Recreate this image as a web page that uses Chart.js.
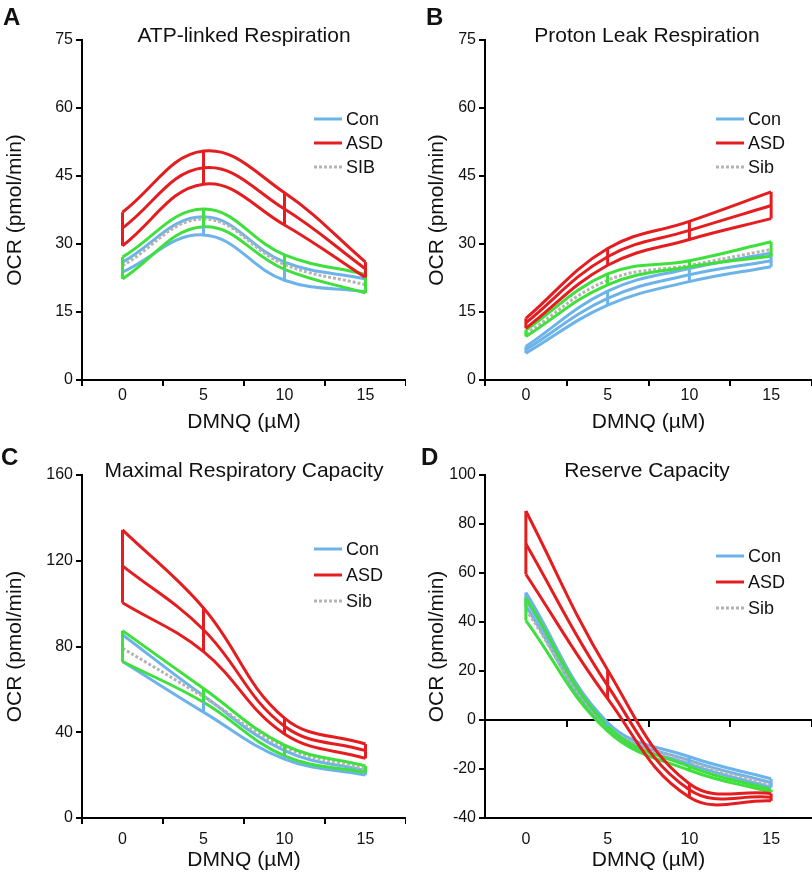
<!DOCTYPE html>
<html>
<head>
<meta charset="utf-8">
<script src="https://cdn.jsdelivr.net/npm/chart.js@4/dist/chart.umd.min.js"></script>
<style>
  body { margin: 0; background: #fff; font-family: "Liberation Sans", Arial, Helvetica, sans-serif; color: #111; }
  #page { position: relative; width: 812px; height: 875px; overflow: hidden; }
  .panel { position: absolute; width: 406px; height: 438px; }
  .letter { position: absolute; font-weight: bold; font-size: 24px; line-height: 24px; }
  .title { position: absolute; width: 324px; text-align: center; font-size: 21px; line-height: 21px; white-space: nowrap; }
</style>
</head>
<body>
<div id="page">
  <div class="panel" style="left:0;top:0"><canvas id="chartA" width="406" height="437"></canvas></div>
  <div class="panel" style="left:406px;top:0"><canvas id="chartB" width="406" height="437"></canvas></div>
  <div class="panel" style="left:0;top:437px"><canvas id="chartC" width="406" height="438"></canvas></div>
  <div class="panel" style="left:406px;top:437px"><canvas id="chartD" width="406" height="438"></canvas></div>

  <div class="letter" style="left:3px;top:5px">A</div>
  <div class="letter" style="left:426px;top:5px">B</div>
  <div class="letter" style="left:1px;top:445px">C</div>
  <div class="letter" style="left:421px;top:445px">D</div>

  <div class="title" style="left:82px;top:24px">ATP-linked Respiration</div>
  <div class="title" style="left:485px;top:24px">Proton Leak Respiration</div>
  <div class="title" style="left:82px;top:459px">Maximal Respiratory Capacity</div>
  <div class="title" style="left:485px;top:459px">Reserve Capacity</div>
</div>

<script>
const doses = ['0', '5', '10', '15'];

// A: ATP-linked respiration
const atpConHi = [26, 36, 26, 22.3];
const atpConLo = [23.8, 32, 22, 19.5];
const atpSibMean = [25.2, 35.5, 25.5, 21];
const atpSibHi = [27.1, 37.7, 27.6, 23.3];
const atpSibLo = [22.3, 33.8, 24.4, 19.2];
const atpAsdHi = [37, 50.5, 41.3, 26];
const atpAsdMean = [33.5, 46.8, 37.7, 24.5];
const atpAsdLo = [29.6, 43.2, 34.2, 22.6];

// B: proton leak respiration
const leakConHi = [7.4, 19.6, 24.6, 28];
const leakConMean = [6.7, 18, 23.2, 26.3];
const leakConLo = [5.9, 16.5, 21.7, 25];
const leakSibMean = [10.2, 22, 25.3, 28.8];
const leakSibHi = [11, 23.4, 26.3, 30.5];
const leakSibLo = [9.6, 21, 25, 27.3];
const leakAsdHi = [13.6, 29, 35, 41.5];
const leakAsdMean = [12.6, 27.2, 33, 38.5];
const leakAsdLo = [11.4, 25.3, 31, 35.6];

// C: maximal respiratory capacity
const maxConHi = [85.5, 57, 31.4, 22];
const maxConLo = [73, 49.4, 27.5, 20];
const maxSibMean = [79.2, 56.5, 33, 22.7];
const maxSibHi = [87.4, 60.4, 34, 24.3];
const maxSibLo = [73, 54, 29, 21.2];
const maxAsdHi = [134.4, 98, 46.6, 34.5];
const maxAsdMean = [117.6, 87.8, 42.8, 31.4];
const maxAsdLo = [100.4, 77.6, 39.2, 27.8];

// D: reserve capacity
const resConHi = [52, -1, -15, -24];
const resConMean = [49, -2.5, -16.5, -25.6];
const resConLo = [46.5, -4, -18, -27.5];
const resSibMean = [45, -2.5, -17, -26.5];
const resSibHi = [50, -2.5, -19, -28.5];
const resSibLo = [40.6, -4.5, -20.5, -29.5];
const resAsdHi = [85.3, 20.4, -26, -30];
const resAsdMean = [71.9, 14, -28.5, -31.5];
const resAsdLo = [59.5, 8.7, -31.5, -33];

const BLUE = '#6cb3ea';
const RED = '#e41e20';
const GREEN = '#3fe03b';
const GRAY = '#b4b4b4';

Chart.defaults.font.family = '"Liberation Sans", Arial, Helvetica, sans-serif';
Chart.defaults.color = '#111';

function line(data, color, dash) {
	return {
		data: data,
		borderColor: color,
		borderWidth: 3,
		borderDash: dash || [],
		pointRadius: 0,
		tension: 0.4,
		fill: false,
		xAxisID: 'x',
		yAxisID: 'y',
	};
}

// vertical SE bars drawn at each dose through the chart scales
const errorBars = {
	id: 'errorBars',
	afterDatasetsDraw(chart, args, opts) {
		const ctx = chart.ctx;
		const xs = chart.scales.x;
		const ys = chart.scales.y;
		ctx.save();
		ctx.lineWidth = 3;
		opts.groups.forEach((g) => {
			ctx.strokeStyle = g.color;
			g.hi.forEach((v, i) => {
				const px = xs.getPixelForValue(i);
				ctx.beginPath();
				ctx.moveTo(px, ys.getPixelForValue(v));
				ctx.lineTo(px, ys.getPixelForValue(g.lo[i]));
				ctx.stroke();
			});
		});
		ctx.restore();
	},
};

const insideLegend = {
	id: 'insideLegend',
	afterDraw(chart, args, opts) {
		const ctx = chart.ctx;
		const area = chart.chartArea;
		ctx.save();
		ctx.font = '18px "Liberation Sans", Arial, sans-serif';
		ctx.textBaseline = 'middle';
		ctx.fillStyle = '#111';
		opts.items.forEach((item, i) => {
			const y = area.top + opts.rows[i];
			ctx.beginPath();
			ctx.strokeStyle = item.color;
			ctx.lineWidth = 3;
			ctx.setLineDash(item.dash || []);
			ctx.moveTo(area.left + opts.x0, y);
			ctx.lineTo(area.left + opts.x1, y);
			ctx.stroke();
			ctx.setLineDash([]);
			ctx.fillText(item.label, area.left + opts.x1 + 4, y + 1);
		});
		ctx.restore();
	},
};

function makePanel(p) {
	const scales = {
		x: {
			type: 'category',
			offset: true,
			grid: { offset: true, drawOnChartArea: false, tickLength: 6, color: '#000', lineWidth: 2,
				tickColor: p.zeroAxis ? 'rgba(0,0,0,0)' : '#000' },
			border: { color: '#000', width: 2 },
			ticks: { font: { size: 16 }, color: '#111', padding: p.xPad },
			title: { display: true, text: 'DMNQ (µM)', font: { size: 21 }, color: '#111', padding: { top: 2, bottom: p.titlePad } },
			afterFit: (s) => { s.height = 57; },
		},
		y: {
			min: p.yMin,
			max: p.yMax,
			grid: { drawOnChartArea: false, tickLength: 6, color: '#000', lineWidth: 2 },
			border: { color: '#000', width: 2 },
			ticks: { stepSize: p.yStep, font: { size: 16 }, color: '#111', padding: 3 },
			title: { display: true, text: 'OCR (pmol/min)', font: { size: 21 }, color: '#111', padding: { top: 3, bottom: 2 } },
			afterFit: (s) => { s.width = p.yWidth; },
		},
	};
	if (p.zeroAxis) {
		scales.x2 = {
			type: 'category',
			position: { y: 0 },
			offset: true,
			grid: { offset: true, drawOnChartArea: false, tickLength: 6, color: '#000', lineWidth: 2 },
			border: { color: '#000', width: 2 },
			ticks: { display: false },
		};
	}

	return new Chart(document.getElementById(p.id), {
		type: 'line',
		data: {
			labels: doses,
			datasets: [
				line(p.asdHi, RED),
				line(p.asdMean, RED),
				line(p.asdLo, RED),
				line(p.sibHi, GREEN),
				line(p.sibLo, GREEN),
				line(p.sibMean, GRAY, [3, 2]),
				line(p.conHi, BLUE),
				...(p.conMean ? [line(p.conMean, BLUE)] : []),
				line(p.conLo, BLUE),
			],
		},
		options: {
			responsive: false,
			animation: false,
			devicePixelRatio: 1,
			layout: { padding: { left: p.padLeft, top: p.padTop, right: 0, bottom: 0 } },
			plugins: {
				legend: { display: false },
				tooltip: { enabled: false },
				errorBars: {
					groups: [
						{ color: BLUE, hi: p.conHi, lo: p.conLo },
						{ color: GREEN, hi: p.sibHi, lo: p.sibLo },
						{ color: RED, hi: p.asdHi, lo: p.asdLo },
					],
				},
				insideLegend: {
					x0: p.legendX, x1: p.legendX + 28,
					rows: p.legendRows,
					items: [
						{ label: 'Con', color: BLUE },
						{ label: 'ASD', color: RED },
						{ label: p.sibName, color: GRAY, dash: [3, 2] },
					],
				},
			},
			scales: scales,
		},
		plugins: [errorBars, insideLegend],
	});
}

makePanel({
	id: 'chartA', yMin: 0, yMax: 75, yStep: 15, padLeft: 0, yWidth: 82, padTop: 40,
	xPad: 0, titlePad: 2,
	legendX: 232, legendRows: [79, 103, 127], sibName: 'SIB',
	conHi: atpConHi, conLo: atpConLo,
	sibMean: atpSibMean, sibHi: atpSibHi, sibLo: atpSibLo,
	asdHi: atpAsdHi, asdMean: atpAsdMean, asdLo: atpAsdLo,
});

makePanel({
	id: 'chartB', yMin: 0, yMax: 75, yStep: 15, padLeft: 16, yWidth: 63, padTop: 40,
	xPad: 0, titlePad: 2,
	legendX: 231, legendRows: [79, 103, 127], sibName: 'Sib',
	conHi: leakConHi, conMean: leakConMean, conLo: leakConLo,
	sibMean: leakSibMean, sibHi: leakSibHi, sibLo: leakSibLo,
	asdHi: leakAsdHi, asdMean: leakAsdMean, asdLo: leakAsdLo,
});

makePanel({
	id: 'chartC', yMin: 0, yMax: 160, yStep: 40, padLeft: 0, yWidth: 82, padTop: 38,
	xPad: 6, titlePad: 2,
	legendX: 232, legendRows: [74, 100, 126], sibName: 'Sib',
	conHi: maxConHi, conLo: maxConLo,
	sibMean: maxSibMean, sibHi: maxSibHi, sibLo: maxSibLo,
	asdHi: maxAsdHi, asdMean: maxAsdMean, asdLo: maxAsdLo,
});

makePanel({
	id: 'chartD', yMin: -40, yMax: 100, yStep: 20, padLeft: 16, yWidth: 63, padTop: 38,
	xPad: 6, titlePad: 2, zeroAxis: true,
	legendX: 231, legendRows: [81, 107, 133], sibName: 'Sib',
	conHi: resConHi, conMean: resConMean, conLo: resConLo,
	sibMean: resSibMean, sibHi: resSibHi, sibLo: resSibLo,
	asdHi: resAsdHi, asdMean: resAsdMean, asdLo: resAsdLo,
});
</script>
</body>
</html>
